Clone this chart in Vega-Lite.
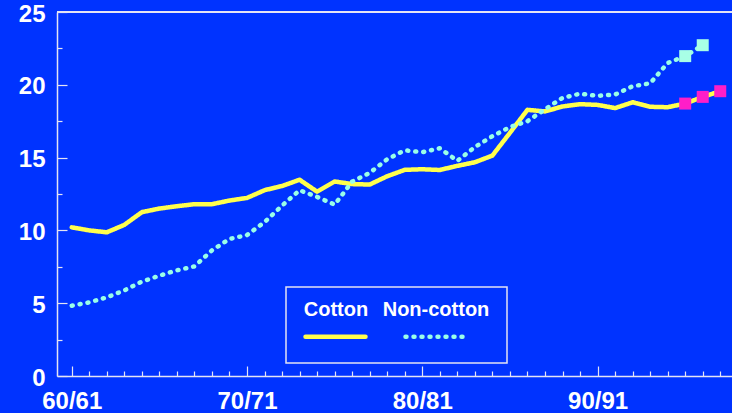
{
  "$schema": "https://vega.github.io/schema/vega-lite/v6.json",
  "width": 675,
  "height": 364,
  "autosize": {"type": "none"},
  "padding": {"left": 57, "top": 12, "right": 0, "bottom": 37},
  "background": "#0033ff",
  "config": {
    "view": {"stroke": null},
    "font": "Liberation Sans",
    "axis": {
      "grid": false,
      "title": null,
      "domainColor": "#e4e4f4",
      "domainWidth": 1.5,
      "tickColor": "#e4e4f4",
      "tickWidth": 1.2,
      "labelColor": "#ffffff",
      "labelFont": "Liberation Sans",
      "labelFontSize": 24,
      "labelFontWeight": "bold",
      "labelOverlap": false,
      "labelFlush": false
    }
  },
  "data": {
    "values": [
      {"year": 60, "series": "Cotton", "value": 10.21, "proj": false},
      {"year": 61, "series": "Cotton", "value": 10.0, "proj": false},
      {"year": 62, "series": "Cotton", "value": 9.87, "proj": false},
      {"year": 63, "series": "Cotton", "value": 10.38, "proj": false},
      {"year": 64, "series": "Cotton", "value": 11.25, "proj": false},
      {"year": 65, "series": "Cotton", "value": 11.5, "proj": false},
      {"year": 66, "series": "Cotton", "value": 11.66, "proj": false},
      {"year": 67, "series": "Cotton", "value": 11.8, "proj": false},
      {"year": 68, "series": "Cotton", "value": 11.8, "proj": false},
      {"year": 69, "series": "Cotton", "value": 12.05, "proj": false},
      {"year": 70, "series": "Cotton", "value": 12.23, "proj": false},
      {"year": 71, "series": "Cotton", "value": 12.76, "proj": false},
      {"year": 72, "series": "Cotton", "value": 13.05, "proj": false},
      {"year": 73, "series": "Cotton", "value": 13.48, "proj": false},
      {"year": 74, "series": "Cotton", "value": 12.66, "proj": false},
      {"year": 75, "series": "Cotton", "value": 13.36, "proj": false},
      {"year": 76, "series": "Cotton", "value": 13.18, "proj": false},
      {"year": 77, "series": "Cotton", "value": 13.15, "proj": false},
      {"year": 78, "series": "Cotton", "value": 13.72, "proj": false},
      {"year": 79, "series": "Cotton", "value": 14.16, "proj": false},
      {"year": 80, "series": "Cotton", "value": 14.2, "proj": false},
      {"year": 81, "series": "Cotton", "value": 14.15, "proj": false},
      {"year": 82, "series": "Cotton", "value": 14.43, "proj": false},
      {"year": 83, "series": "Cotton", "value": 14.68, "proj": false},
      {"year": 84, "series": "Cotton", "value": 15.14, "proj": false},
      {"year": 85, "series": "Cotton", "value": 16.7, "proj": false},
      {"year": 86, "series": "Cotton", "value": 18.28, "proj": false},
      {"year": 87, "series": "Cotton", "value": 18.17, "proj": false},
      {"year": 88, "series": "Cotton", "value": 18.51, "proj": false},
      {"year": 89, "series": "Cotton", "value": 18.67, "proj": false},
      {"year": 90, "series": "Cotton", "value": 18.62, "proj": false},
      {"year": 91, "series": "Cotton", "value": 18.4, "proj": false},
      {"year": 92, "series": "Cotton", "value": 18.8, "proj": false},
      {"year": 93, "series": "Cotton", "value": 18.49, "proj": false},
      {"year": 94, "series": "Cotton", "value": 18.46, "proj": false},
      {"year": 95, "series": "Cotton", "value": 18.71, "proj": true},
      {"year": 96, "series": "Cotton", "value": 19.17, "proj": true},
      {"year": 97, "series": "Cotton", "value": 19.56, "proj": true},
      {"year": 60, "series": "Non-cotton", "value": 4.83, "proj": false},
      {"year": 61, "series": "Non-cotton", "value": 5.06, "proj": false},
      {"year": 62, "series": "Non-cotton", "value": 5.4, "proj": false},
      {"year": 63, "series": "Non-cotton", "value": 5.88, "proj": false},
      {"year": 64, "series": "Non-cotton", "value": 6.48, "proj": false},
      {"year": 65, "series": "Non-cotton", "value": 6.89, "proj": false},
      {"year": 66, "series": "Non-cotton", "value": 7.26, "proj": false},
      {"year": 67, "series": "Non-cotton", "value": 7.53, "proj": false},
      {"year": 68, "series": "Non-cotton", "value": 8.63, "proj": false},
      {"year": 69, "series": "Non-cotton", "value": 9.41, "proj": false},
      {"year": 70, "series": "Non-cotton", "value": 9.68, "proj": false},
      {"year": 71, "series": "Non-cotton", "value": 10.57, "proj": false},
      {"year": 72, "series": "Non-cotton", "value": 11.7, "proj": false},
      {"year": 73, "series": "Non-cotton", "value": 12.76, "proj": false},
      {"year": 74, "series": "Non-cotton", "value": 12.3, "proj": false},
      {"year": 75, "series": "Non-cotton", "value": 11.77, "proj": false},
      {"year": 76, "series": "Non-cotton", "value": 13.35, "proj": false},
      {"year": 77, "series": "Non-cotton", "value": 13.95, "proj": false},
      {"year": 78, "series": "Non-cotton", "value": 14.89, "proj": false},
      {"year": 79, "series": "Non-cotton", "value": 15.5, "proj": false},
      {"year": 80, "series": "Non-cotton", "value": 15.37, "proj": false},
      {"year": 81, "series": "Non-cotton", "value": 15.64, "proj": false},
      {"year": 82, "series": "Non-cotton", "value": 14.78, "proj": false},
      {"year": 83, "series": "Non-cotton", "value": 15.72, "proj": false},
      {"year": 84, "series": "Non-cotton", "value": 16.47, "proj": false},
      {"year": 85, "series": "Non-cotton", "value": 17.1, "proj": false},
      {"year": 86, "series": "Non-cotton", "value": 17.5, "proj": false},
      {"year": 87, "series": "Non-cotton", "value": 18.32, "proj": false},
      {"year": 88, "series": "Non-cotton", "value": 19.1, "proj": false},
      {"year": 89, "series": "Non-cotton", "value": 19.39, "proj": false},
      {"year": 90, "series": "Non-cotton", "value": 19.24, "proj": false},
      {"year": 91, "series": "Non-cotton", "value": 19.33, "proj": false},
      {"year": 92, "series": "Non-cotton", "value": 19.9, "proj": false},
      {"year": 93, "series": "Non-cotton", "value": 20.1, "proj": false},
      {"year": 94, "series": "Non-cotton", "value": 21.5, "proj": false},
      {"year": 95, "series": "Non-cotton", "value": 21.97, "proj": true},
      {"year": 96, "series": "Non-cotton", "value": 22.72, "proj": true}
    ]
  },
  "encoding": {
    "x": {
      "field": "year",
      "type": "quantitative",
      "scale": {"domain": [59.16, 97.67], "nice": false, "zero": false},
      "axis": {
        "values": [60,61,62,63,64,65,66,67,68,69,70,71,72,73,74,75,76,77,78,79,80,81,82,83,84,85,86,87,88,89,90,91,92,93,94,95,96,97],
        "labelExpr": "datum.value % 10 === 0 ? datum.value + '/' + (datum.value + 1) : ''",
        "tickSize": {"condition": {"test": "datum.value % 10 === 0", "value": -10}, "value": -5},
        "labelPadding": 23,
        "labelBaseline": "top"
      }
    },
    "y": {
      "field": "value",
      "type": "quantitative",
      "scale": {"domain": [0, 25], "nice": false},
      "axis": {
        "values": [0, 2.5, 5, 7.5, 10, 12.5, 15, 17.5, 20, 22.5, 25],
        "labelExpr": "datum.value % 5 === 0 ? datum.label : ''",
        "tickSize": {"condition": {"test": "datum.value % 5 === 0", "value": -10}, "value": -5},
        "labelPadding": 22,
        "labelOffset": 2
      }
    }
  },
  "layer": [
    {
      "mark": {"type": "rule", "color": "#e4e4f4", "strokeWidth": 1.5},
      "encoding": {"x": null, "y": {"datum": 25}}
    },
    {
      "mark": {"type": "line", "strokeWidth": 4.5, "strokeCap": "round", "strokeJoin": "round"},
      "encoding": {
        "stroke": {
          "field": "series",
          "type": "nominal",
          "scale": {"domain": ["Cotton", "Non-cotton"], "range": ["#ffff4d", "#99ffe8"]},
          "legend": {
            "orient": "none",
            "legendX": 229,
            "legendY": 275,
            "direction": "horizontal",
            "title": null,
            "symbolType": "stroke",
            "symbolSize": 3600,
            "symbolStrokeWidth": 4.5,
            "labelFont": "Liberation Sans",
            "labelFontSize": 20,
            "labelFontWeight": "bold",
            "labelColor": "#ffffff",
            "labelAlign": "center",
            "labelBaseline": "middle",
            "labelOffset": -32,
            "strokeColor": "#e4e4f4",
            "padding": 17,
            "columnPadding": 7,
            "encode": {
              "labels": {"update": {"dy": {"value": -27}}},
              "symbols": {"update": {"strokeCap": {"value": "round"}}},
              "legend": {"update": {"strokeWidth": {"value": 1.5}}}
            }
          }
        },
        "strokeDash": {
          "field": "series",
          "type": "nominal",
          "scale": {"domain": ["Cotton", "Non-cotton"], "range": [[1, 0], [1, 7]]}
        }
      }
    },
    {
      "transform": [{"filter": "datum.proj"}],
      "mark": {"type": "point", "shape": "square", "filled": true, "size": 144, "opacity": 1},
      "encoding": {
        "fill": {
          "field": "series",
          "type": "nominal",
          "scale": {"domain": ["Cotton", "Non-cotton"], "range": ["#ff1ec8", "#a8ffe6"]},
          "legend": null
        }
      }
    }
  ]
}
